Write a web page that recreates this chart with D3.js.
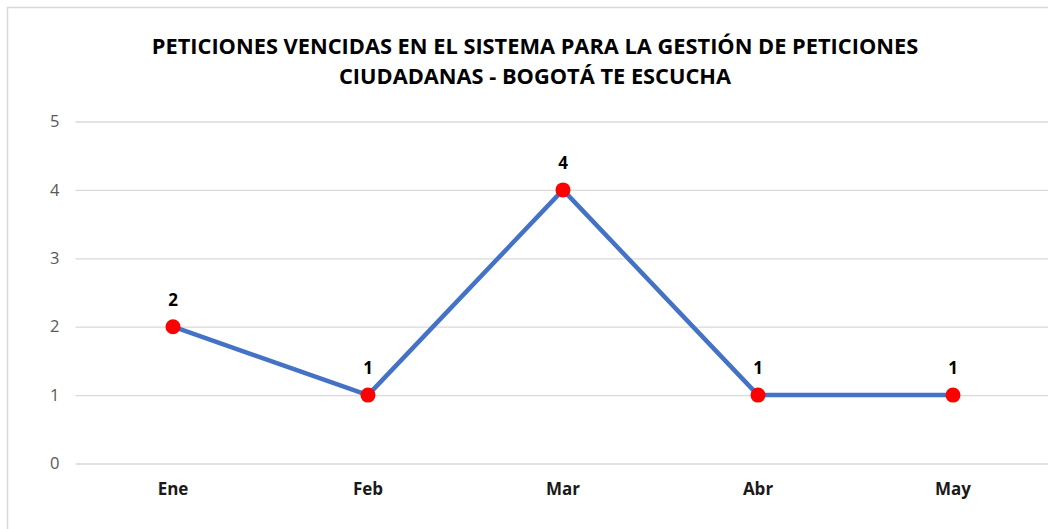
<!DOCTYPE html>
<html><head><meta charset="utf-8">
<script src="https://cdn.jsdelivr.net/npm/d3@7"></script>
<style>body{margin:0;background:#fff}svg{display:block}</style>
</head><body>
<svg id="c" width="1048" height="529"></svg>
<script>
const categories = ["Ene","Feb","Mar","Abr","May"];
const values = [2,1,4,1,1];
const yTicks = [0,1,2,3,4,5];
const titleLines = ["PETICIONES VENCIDAS EN EL SISTEMA PARA LA GESTIÓN DE PETICIONES","CIUDADANAS - BOGOTÁ TE ESCUCHA"];

(function(){
const svg = d3.select("#c");
const font = "'Open Sans', 'Noto Sans', sans-serif";
svg.append("rect").attr("x",7.5).attr("y",7.5).attr("width",1100).attr("height",600)
  .attr("fill","#fff").attr("stroke","#d9d9d9").attr("stroke-width",1.5);

const pLeft = 75.5, pRight = 1050.5, pTop = 121.5, pBottom = 463.5;
const x = d3.scaleBand().domain(categories).range([pLeft,pRight]);
const y = d3.scaleLinear().domain([0,5]).range([pBottom,pTop]);

const yAxis = svg.append("g").attr("transform",`translate(${pLeft},0)`)
  .call(d3.axisLeft(y).tickValues(yTicks).tickSize(-(pRight-pLeft)).tickPadding(16).tickFormat(d3.format("d")));
yAxis.select(".domain").remove();
yAxis.selectAll(".tick line").attr("stroke","#d9d9d9").attr("stroke-width",1.3);
yAxis.selectAll(".tick text").attr("fill","#595959").style("font-family",font).style("font-size","16.5px");

const xAxis = svg.append("g").attr("transform",`translate(0,${pBottom})`)
  .call(d3.axisBottom(x).tickSize(0).tickPadding(19));
xAxis.select(".domain").remove();
xAxis.selectAll(".tick text").attr("fill","#1a1a1a").style("font-family",font).style("font-size","17px").style("font-weight","bold");

const cx = d => x(d) + x.bandwidth()/2;
const line = d3.line().x((d,i)=>cx(categories[i])).y(d=>y(d));
svg.append("path").datum(values).attr("d",line).attr("fill","none")
  .attr("stroke","#4472C4").attr("stroke-width",4.5).attr("stroke-linejoin","round");

svg.selectAll("circle.pt").data(values).join("circle").attr("class","pt")
  .attr("cx",(d,i)=>cx(categories[i])).attr("cy",d=>y(d)).attr("r",7.5).attr("fill","#ff0000");

svg.selectAll("text.lbl").data(values).join("text").attr("class","lbl")
  .attr("x",(d,i)=>cx(categories[i])).attr("y",d=>y(d)-21)
  .attr("text-anchor","middle").attr("fill","#000")
  .style("font-family",font).style("font-size","17px").style("font-weight","bold").text(d=>d);

svg.selectAll("text.title").data(titleLines).join("text").attr("class","title")
  .attr("x",535).attr("y",(d,i)=>53.5+i*30.5).attr("text-anchor","middle").attr("fill","#000")
  .style("font-family",font).style("font-size","21.8px").style("font-weight","bold").text(d=>d);
})();
</script>
</body></html>
